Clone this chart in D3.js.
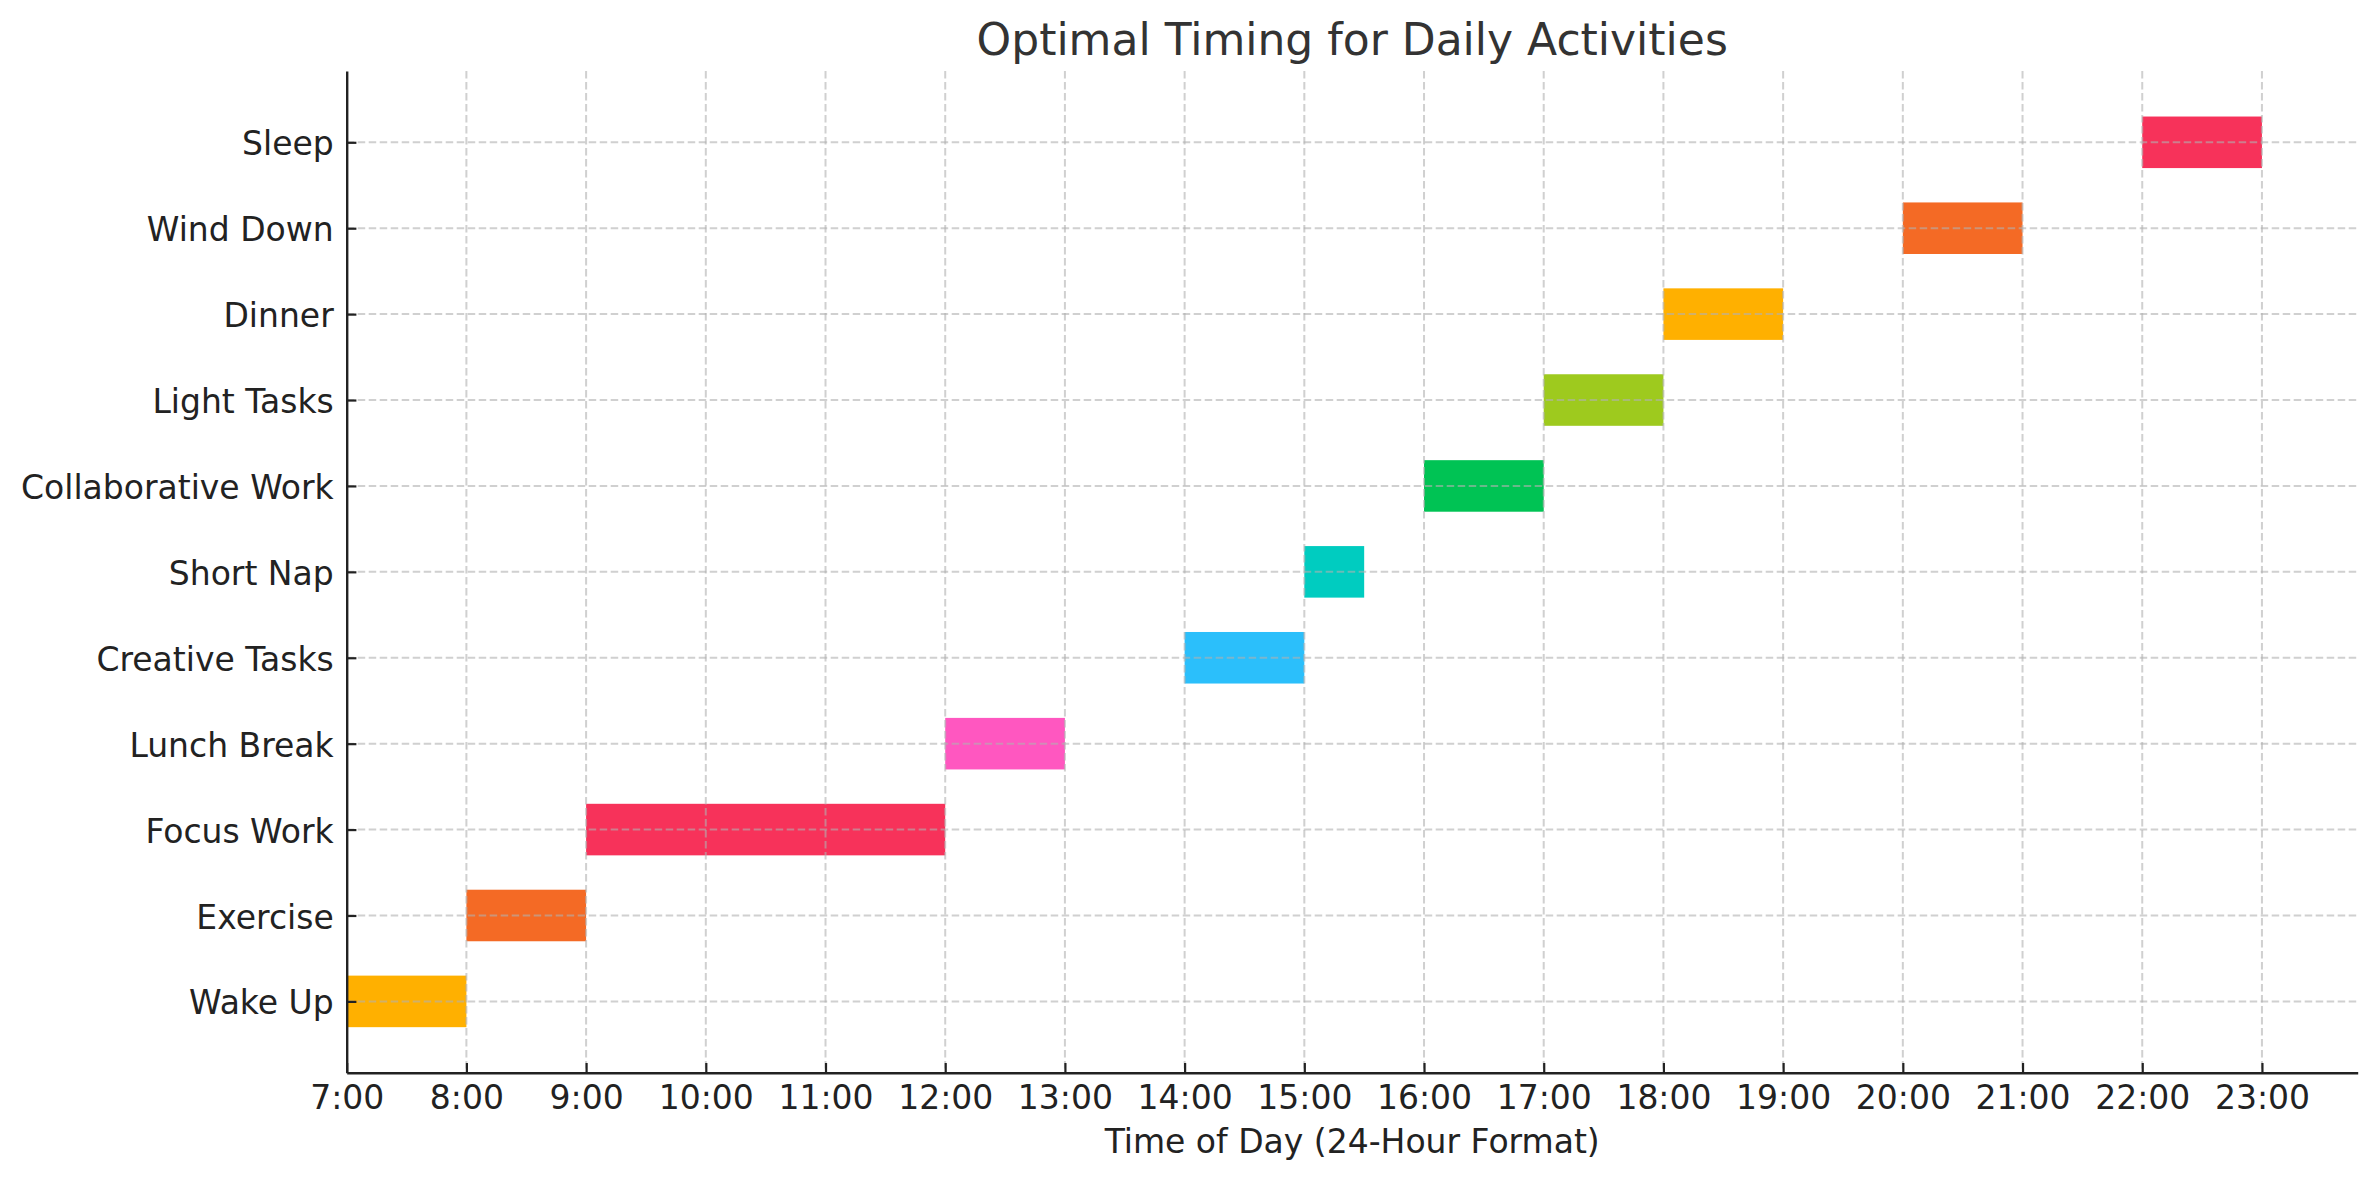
<!DOCTYPE html>
<html>
<head>
<meta charset="utf-8">
<script src="https://cdn.jsdelivr.net/npm/d3@7"></script>
<style>
  body { margin: 0; background: #fff; }
  text { font-family: "DejaVu Sans", sans-serif; }
</style>
</head>
<body>
<div id="chart"></div>
<script>
// data
const activities = ['Wake Up', 'Exercise', 'Focus Work', 'Lunch Break', 'Creative Tasks', 'Short Nap',
    'Collaborative Work', 'Light Tasks', 'Dinner', 'Wind Down', 'Sleep'];
const startHours = [7, 8, 9, 12, 14, 15, 16, 17, 18, 20, 22];
const endHours = [8, 9, 12, 13, 15, 15.5, 17, 18, 19, 21, 23];
const hourTicks = [7, 8, 9, 10, 11, 12, 13, 14, 15, 16, 17, 18, 19, 20, 21, 22, 23];

const palette = ['#FFB000', '#F46A25', '#F7325A', '#FF57C0', '#2BBFFB', '#00CCC0',
    '#00C354', '#9ECA1E', '#FFB000', '#F46A25', '#F7325A'];

const W = 2379, H = 1180;
const margin = { top: 71, right: W - 2357.7, bottom: H - 1072.7, left: 346.7 };
const width = W - margin.left - margin.right,
    height = H - margin.top - margin.bottom;

const svg = d3.select('#chart')
    .append('svg')
    .attr('width', W)
    .attr('height', H)
    .style('background', '#fff');

const g = svg.append('g')
    .attr('transform', `translate(${margin.left}, ${margin.top})`);

// scales (matplotlib-like margins)
const x = d3.scaleLinear()
    .domain([7, 23.8])
    .range([0, width]);

const y = d3.scaleLinear()
    .domain([-0.83, activities.length - 1 + 0.83])
    .range([height, 0]);

const barH = y(0) - y(0.6);

// bars
g.selectAll('rect.bar')
    .data(activities)
    .join('rect')
    .attr('class', 'bar')
    .attr('x', (d, i) => x(startHours[i]))
    .attr('y', (d, i) => y(i + 0.3))
    .attr('width', (d, i) => x(endHours[i]) - x(startHours[i]))
    .attr('height', barH)
    .attr('fill', (d, i) => palette[i]);

// grid (drawn over bars, like the reference)
const grid = g.append('g')
    .attr('stroke', '#b0b0b0')
    .attr('stroke-opacity', 0.6)
    .attr('stroke-width', 2)
    .attr('stroke-dasharray', '7.5,3.5');

grid.selectAll('line.vg')
    .data(hourTicks.slice(1))
    .join('line')
    .attr('class', 'vg')
    .attr('x1', d => x(d)).attr('x2', d => x(d))
    .attr('y1', 0).attr('y2', height);

grid.selectAll('line.hg')
    .data(activities)
    .join('line')
    .attr('class', 'hg')
    .attr('x1', 0).attr('x2', width)
    .attr('y1', (d, i) => y(i)).attr('y2', (d, i) => y(i));

// axes
const xAxis = d3.axisBottom(x)
    .tickValues(hourTicks)
    .tickFormat(d => `${d}:00`)
    .tickSizeInner(-9.7)
    .tickSizeOuter(0)
    .tickPadding(13);

const yAxis = d3.axisLeft(y)
    .tickValues(d3.range(activities.length))
    .tickFormat(i => activities[i])
    .tickSizeInner(-9.7)
    .tickSizeOuter(0)
    .tickPadding(13);

const gx = g.append('g')
    .attr('transform', `translate(0, ${height})`)
    .call(xAxis);

const gy = g.append('g')
    .call(yAxis);

[gx, gy].forEach(ax => {
    ax.select('.domain').attr('stroke', '#222').attr('stroke-width', 2.4);
    ax.selectAll('.tick line').attr('stroke', '#222').attr('stroke-width', 2.2);
    ax.selectAll('.tick text')
        .attr('fill', '#222')
        .style('font-size', '33px')
        .style('font-family', '"DejaVu Sans", sans-serif');
});
gy.selectAll('.tick text').attr('dy', '0.38em');

// title and axis label
svg.append('text')
    .attr('x', margin.left + width / 2)
    .attr('y', 55)
    .attr('text-anchor', 'middle')
    .attr('fill', '#333')
    .style('font-size', '44px')
    .text('Optimal Timing for Daily Activities');

svg.append('text')
    .attr('x', margin.left + width / 2)
    .attr('y', 1152.5)
    .attr('text-anchor', 'middle')
    .attr('fill', '#222')
    .style('font-size', '33px')
    .text('Time of Day (24-Hour Format)');
</script>
</body>
</html>
